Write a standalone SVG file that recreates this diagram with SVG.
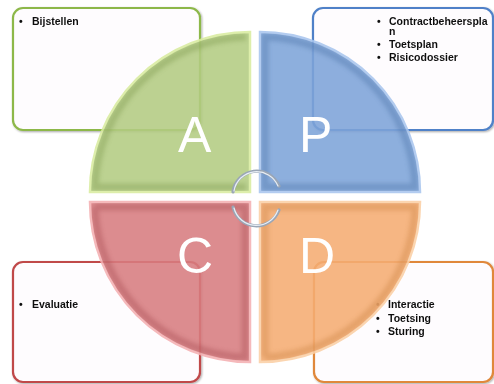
<svg xmlns="http://www.w3.org/2000/svg" width="494" height="384" viewBox="0 0 494 384">
<defs>
<style>
.box{fill:#fefcfe;stroke-width:2.2}
.q{stroke-width:2.5;opacity:0.88}
.bevel{fill:none;stroke-width:7;opacity:0.4}
.t{font-family:"Liberation Sans",Arial,sans-serif;font-size:10.5px;font-weight:bold;fill:#111}
.L{font-family:"Liberation Sans",Arial,sans-serif;font-size:50px;fill:#ffffff}
.arc{fill:none;stroke:#9aa6b6;stroke-width:3.2;stroke-linecap:round}
.arcHi{fill:none;stroke:#e8eef5;stroke-width:1.2;stroke-linecap:round}
</style>
<filter id="sh" x="-10%" y="-10%" width="120%" height="120%">
<feGaussianBlur in="SourceAlpha" stdDeviation="1.2"/>
<feOffset dx="0.5" dy="1" result="b"/>
<feComponentTransfer><feFuncA type="linear" slope="0.35"/></feComponentTransfer>
<feMerge><feMergeNode/><feMergeNode in="SourceGraphic"/></feMerge>
</filter>
<filter id="bl" x="-10%" y="-10%" width="120%" height="120%"><feGaussianBlur stdDeviation="2"/></filter>
<clipPath id="cA"><path d="M249,191 L91,191 A159,159 0 0 1 249,33 Z"/></clipPath>
<clipPath id="cP"><path d="M261,191 L261,33 A159,159 0 0 1 419,191 Z"/></clipPath>
<clipPath id="cC"><path d="M249,203 L249,361 A159,159 0 0 1 91,203 Z"/></clipPath>
<clipPath id="cD"><path d="M261,203 L419,203 A159,159 0 0 1 261,361 Z"/></clipPath>
</defs>
<rect width="494" height="384" fill="#ffffff"/>

<g id="box-A" filter="url(#sh)">
<rect class="box" x="13" y="8" width="187" height="122" rx="10" stroke="#8db84a"/>
<text class="t" x="19" y="25">•</text>
<text class="t" x="32" y="25">Bijstellen</text>
</g>
<g id="box-P" filter="url(#sh)">
<rect class="box" x="313" y="8" width="180" height="122" rx="10" stroke="#4f81c8"/>
<text class="t" x="377" y="24.5">•</text>
<text class="t" x="389" y="24.5">Contractbeheerspla</text>
<text class="t" x="389" y="35">n</text>
<text class="t" x="377" y="48">•</text>
<text class="t" x="389" y="48">Toetsplan</text>
<text class="t" x="377" y="61">•</text>
<text class="t" x="389" y="61">Risicodossier</text>
</g>
<g id="box-C" filter="url(#sh)">
<rect class="box" x="13" y="262" width="187" height="120" rx="10" stroke="#c0484a"/>
<text class="t" x="19" y="308">•</text>
<text class="t" x="32" y="308">Evaluatie</text>
</g>
<g id="box-D" filter="url(#sh)">
<rect class="box" x="314" y="262" width="179" height="120" rx="10" stroke="#e0883a"/>
<text class="t" x="376" y="308">•</text>
<text class="t" x="388" y="308">Interactie</text>
<text class="t" x="376" y="321.5">•</text>
<text class="t" x="388" y="321.5">Toetsing</text>
<text class="t" x="376" y="335">•</text>
<text class="t" x="388" y="335">Sturing</text>
</g>

<g id="quad-A">
<path class="q" d="M250,192 L90,192 A160,160 0 0 1 250,32 Z" fill="#b3cc82" stroke="#d9eca0"/>
<g clip-path="url(#cA)"><path class="bevel" filter="url(#bl)" d="M246,187 L95,187 A155,155 0 0 1 246,37" stroke="#7f9a50"/></g>
<text class="L" x="178" y="152">A</text>
</g>
<g id="quad-P">
<path class="q" d="M260,192 L260,32 A160,160 0 0 1 420,192 Z" fill="#7ea4d9" stroke="#a9c6ee"/>
<g clip-path="url(#cP)"><path class="bevel" filter="url(#bl)" d="M265,37 A155,155 0 0 1 415,187 L265,187 Z" stroke="#4e74a8"/></g>
<text class="L" x="299" y="152">P</text>
</g>
<g id="quad-C">
<path class="q" d="M250,202 L250,362 A160,160 0 0 1 90,202 Z" fill="#d87d80" stroke="#f4b0b2"/>
<g clip-path="url(#cC)"><path class="bevel" filter="url(#bl)" d="M95,207 L245,207 L245,357 A155,155 0 0 1 95,207" stroke="#a84e52"/></g>
<text class="L" x="177" y="273">C</text>
</g>
<g id="quad-D">
<path class="q" d="M260,202 L420,202 A160,160 0 0 1 260,362 Z" fill="#f5ad73" stroke="#fbd0a6"/>
<g clip-path="url(#cD)"><path class="bevel" filter="url(#bl)" d="M265,357 L265,207 L415,207 A155,155 0 0 1 265,357" stroke="#cc8444"/></g>
<text class="L" x="299" y="273">D</text>
</g>

<g id="connectors">
<path class="arc" d="M233,192 A24,24 0 0 1 279,186"/>
<path class="arcHi" d="M234,191 A23,23 0 0 1 278,186"/>
<path class="arc" d="M233,207 A24,24 0 0 0 279,210"/>
<path class="arcHi" d="M234,208 A23,23 0 0 0 278,210"/>
</g>
</svg>
